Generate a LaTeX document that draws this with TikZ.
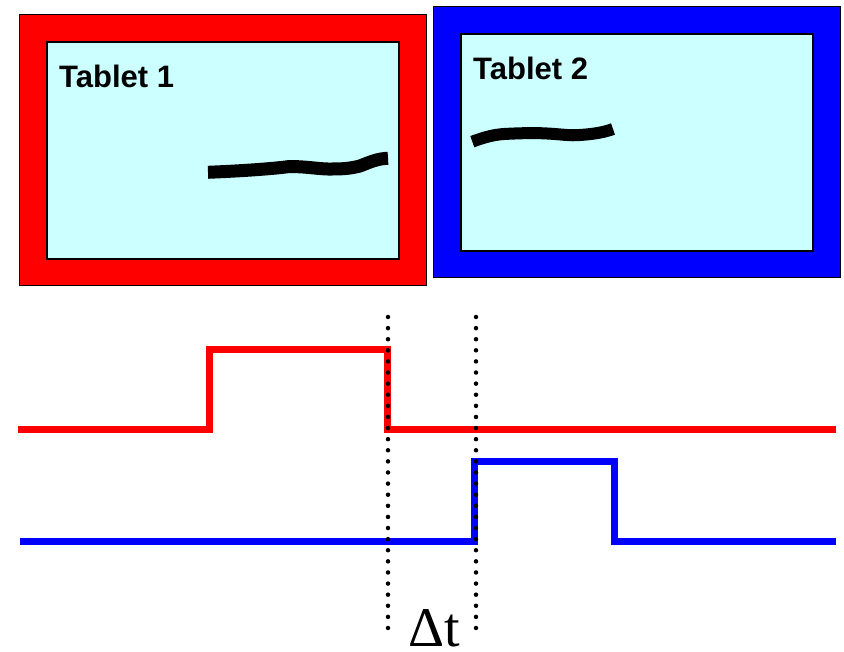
\documentclass[tikz,border=0pt]{standalone}
\usepackage{fontspec}
\setmainfont{Liberation Sans}
\newfontfamily\deltafont{Liberation Serif}
\definecolor{screen}{RGB}{204,255,255}
\begin{document}
\begin{tikzpicture}[x=1pt,y=-1pt,
  frame/.style={draw=black,line width=1pt,inner sep=0pt,outer sep=0pt},
  screenbox/.style={frame,fill=screen,line width=1.2pt},
  label/.style={anchor=base west,inner sep=0pt,font=\fontsize{31}{31}\selectfont\bfseries},
  ink/.style={draw=black,line width=13pt,line cap=butt},
  sig/.style={line width=7pt,line cap=butt,line join=miter},
  dots/.style={draw=black,line width=4.5pt,line cap=round,dash pattern=on 0pt off 11.107pt}]
\useasboundingbox (0,0) rectangle (844,652);
% tablet 1
\node[frame,fill=red,minimum width=407pt,minimum height=271pt] (t1) at (222.5,150.5) {};
\node[screenbox,minimum width=352pt,minimum height=217pt] (s1) at (223,150.5) {};
\node[label] (l1) at (59,88) {Tablet 1};
% tablet 2
\node[frame,fill=blue,minimum width=407pt,minimum height=271pt] (t2) at (636.5,142.5) {};
\node[screenbox,minimum width=352pt,minimum height=217pt] (s2) at (637,142.5) {};
\node[label] (l2) at (473,80) {Tablet 2};
% ink strokes
\draw[ink] (208,172.3) .. controls (240,171) and (270,169) .. (288,166.7)
  .. controls (305,166) and (320,169.5) .. (333,169)
  .. controls (345,169) and (352,168) .. (360,166)
  .. controls (370,162) and (378,158.5) .. (388,158.3);
\draw[ink,line width=12pt] (472.3,141.7) .. controls (485,137) and (495,134) .. (510,133.7)
  .. controls (525,133) and (535,133) .. (543,133.3)
  .. controls (560,134) and (570,136) .. (580,135)
  .. controls (595,134) and (605,132) .. (613,129);
% signals
\coordinate (r0) at (18,429.3);
\coordinate (r1) at (209.5,429.3);
\coordinate (r2) at (209.5,349.3);
\coordinate (r3) at (387.7,349.3);
\coordinate (r4) at (387.7,429.3);
\coordinate (r5) at (836,429.3);
\draw[sig,red] (r0) -- (r1) -- (r2) -- (r3) -- (r4) -- (r5);
\coordinate (b0) at (20,541.5);
\coordinate (b1) at (474.7,541.5);
\coordinate (b2) at (474.7,461.7);
\coordinate (b3) at (614,461.7);
\coordinate (b4) at (614,541.5);
\coordinate (b5) at (836,541.5);
\draw[sig,blue] (b0) -- (b1) -- (b2) -- (b3) -- (b4) -- (b5);
% dotted markers
\coordinate (d1a) at (388,317);
\coordinate (d1b) at (388,628);
\coordinate (d2a) at (476,317);
\coordinate (d2b) at (476,628);
\draw[dots] (d1a) -- (d1b);
\draw[dots] (d2a) -- (d2b);
\node[anchor=base west,inner sep=0pt,text depth=0pt,font=\deltafont\fontsize{56}{56}\selectfont] (dt) at (408,646) {Δt};
\end{tikzpicture}
\end{document}
